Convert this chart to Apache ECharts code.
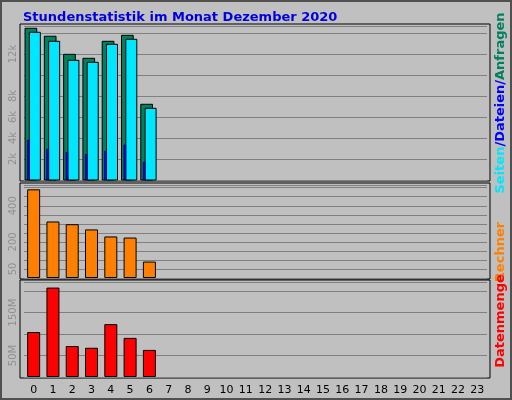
<!DOCTYPE html>
<html><head><meta charset="utf-8">
<script src="https://cdn.jsdelivr.net/npm/echarts@6/dist/echarts.min.js"></script>
<style>html,body{margin:0;padding:0;background:#c0c0c0}#c{width:512px;height:400px}</style>
</head><body><div id="c"></div>
<script>
const hours = ['0','1','2','3','4','5','6','7','8','9','10','11','12','13','14','15','16','17','18','19','20','21','22','23'];
const anfragen = [14450,13690,11970,11590,13210,13780,7210];
const seiten = [14070,13210,11400,11210,12920,13400,6830];
const dateien = [3810,2950,2640,2450,2760,3330,1690];
const rechner = [491,313,298,269,230,224,91];
const datenmenge = [104.6e6,208e6,72e6,68e6,123e6,91e6,63e6];
const topLabels = [2000,4000,6000,8000,12000];
const midLabels = [50,200,400];
const botLabels = [50e6,150e6];

const C = {green:'#00805f',cyan:'#00e6ff',blue:'#0000ff',orange:'#ff8000',red:'#ff0000',grid:'#808080',lab:'#909090'};
const chart = echarts.init(document.getElementById('c'));
const topData = anfragen.map((v,i)=>[i,v,seiten[i],dateien[i]]);
function rect(x0,x1,y0,y1,fill,lw){return {type:'rect',shape:{x:x0,y:y1,width:x1-x0,height:y0-y1},style:{fill:fill,stroke:'#000',lineWidth:lw}};}
const grids=[{left:24,right:25,top:26,height:154},{left:24,right:25,top:185,height:93},{left:24,right:25,top:282,height:95}];
function yax(gi,max,interval,labels,fmt){return {gridIndex:gi,type:'value',min:0,max:max,interval:interval,
 axisLine:{show:false},axisTick:{show:false},splitLine:{lineStyle:{color:C.grid,width:1}},
 axisLabel:{rotate:90,color:C.lab,fontFamily:'DejaVu Sans',fontSize:10,margin:6,formatter:v=>labels.includes(v)?fmt(v):''}};}
function xax(gi,show){return {gridIndex:gi,type:'category',data:hours,axisLine:{show:false},axisTick:{show:false},
 axisLabel:{show:show,color:'#000',fontFamily:'DejaVu Sans',fontSize:11,margin:8}};}
const panels=grids.map(g=>({type:'rect',shape:{x:20,y:g.top-2,width:470,height:g.height+3},style:{fill:'#c0c0c0',stroke:'#000',lineWidth:1},z:-10}));
const F='bold 13px DejaVu Sans';
chart.setOption({
 backgroundColor:'#c0c0c0',animation:false,
 title:{text:'Stundenstatistik im Monat Dezember 2020',left:18,top:6,textStyle:{color:'#0000e0',fontFamily:'DejaVu Sans',fontWeight:'bold',fontSize:13}},
 grid:grids,
 xAxis:[xax(0,false),xax(1,false),xax(2,true)],
 yAxis:[yax(0,14667,2000,topLabels,v=>(v/1000)+'k'),yax(1,515,50,midLabels,v=>v),yax(2,221e6,50e6,botLabels,v=>(v/1e6)+'M')],
 graphic:[{type:'rect',shape:{x:1,y:1,width:510,height:398},style:{fill:'none',stroke:'#505050',lineWidth:2},z:-20},
  ...panels,
  {type:'text',x:501,y:103,rotation:Math.PI/2,style:{text:'{a|Seiten}{b|/Dateien/}{c|Anfragen}',align:'center',verticalAlign:'middle',font:F,
   rich:{a:{fill:C.cyan,font:F},b:{fill:C.blue,font:F},c:{fill:C.green,font:F}}}},
  {type:'text',x:501,y:252,rotation:Math.PI/2,style:{text:'Rechner',fill:C.orange,align:'center',verticalAlign:'middle',font:F}},
  {type:'text',x:501,y:321,rotation:Math.PI/2,style:{text:'Datenmenge',fill:C.red,align:'center',verticalAlign:'middle',font:F}}],
 series:[
  {type:'custom',xAxisIndex:0,yAxisIndex:0,data:topData,renderItem:(p,api)=>{
    const x=api.coord([api.value(0),0]);const base=x[1];const cx=x[0];
    const yg=api.coord([api.value(0),api.value(1)])[1],yc=api.coord([api.value(0),api.value(2)])[1],yb=api.coord([api.value(0),api.value(3)])[1];
    return {type:'group',children:[rect(cx-8.6,cx+3.1,base,yg,C.green,1),rect(cx-4.3,cx+6.7,base,yc,C.cyan,1),rect(cx-6.3,cx-4.3,base,yb,C.blue,0.5)]};}},
  {type:'bar',xAxisIndex:1,yAxisIndex:1,data:rechner,barWidth:13,itemStyle:{color:C.orange,borderColor:'#000',borderWidth:1}},
  {type:'bar',xAxisIndex:2,yAxisIndex:2,data:datenmenge,barWidth:13,itemStyle:{color:C.red,borderColor:'#000',borderWidth:1}}
 ]});
</script></body></html>
